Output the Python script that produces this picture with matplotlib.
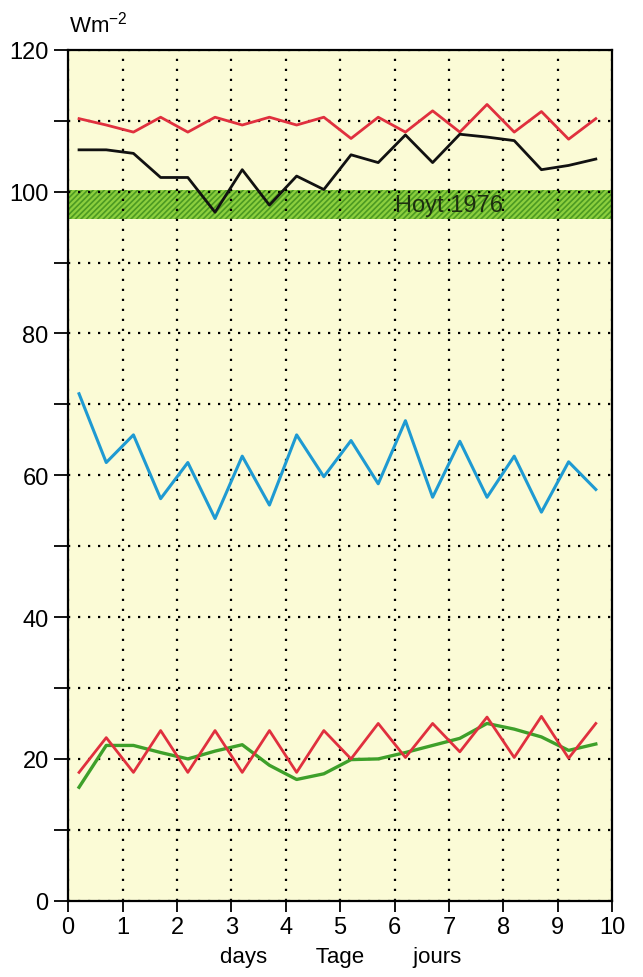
import numpy as np
import matplotlib.pyplot as plt

# half-day sample positions
days = [0.2, 0.7, 1.2, 1.7, 2.2, 2.7, 3.2, 3.7, 4.2, 4.7,
        5.2, 5.7, 6.2, 6.7, 7.2, 7.7, 8.2, 8.7, 9.2, 9.7]

red_top = [110.3, 109.4, 108.4, 110.5, 108.4, 110.5, 109.4, 110.5, 109.4, 110.5,
           107.5, 110.5, 108.4, 111.4, 108.4, 112.3, 108.4, 111.3, 107.4, 110.3]
black = [105.9, 105.9, 105.4, 102.0, 102.0, 97.1, 103.1, 98.1, 102.2, 100.3,
         105.2, 104.1, 108.0, 104.1, 108.1, 107.7, 107.2, 103.1, 103.7, 104.6]
blue = [71.5, 61.8, 65.7, 56.7, 61.8, 53.9, 62.7, 55.8, 65.7, 59.8,
        64.9, 58.8, 67.7, 56.9, 64.8, 56.9, 62.7, 54.8, 61.9, 58.0]
red_low = [18.1, 23.0, 18.1, 24.0, 18.1, 24.0, 18.1, 24.0, 18.1, 24.0,
           20.0, 25.0, 20.2, 25.0, 21.0, 25.9, 20.2, 26.0, 20.1, 25.0]
green = [16.0, 21.9, 21.9, 20.9, 20.0, 21.1, 22.0, 19.1, 17.1, 17.9,
         19.9, 20.0, 20.9, 21.9, 22.9, 25.0, 24.2, 23.1, 21.2, 22.1]

hoyt_low, hoyt_high = 96.1, 100.3

plt.rcParams['font.family'] = ['Liberation Sans Narrow', 'Liberation Sans', 'DejaVu Sans']
plt.rcParams['hatch.linewidth'] = 1.2

fig = plt.figure(figsize=(6.43, 9.78), dpi=100)
ax = fig.add_axes([0.106, 0.078, 0.846, 0.870])
ax.set_facecolor('#fbfbd6')

# Hoyt 1976 band
ax.axhspan(hoyt_low, hoyt_high, facecolor='#8ccf3e', edgecolor='#4c9a22',
           hatch='//////', linewidth=0, zorder=1)
ax.text(7.0, 98.1, 'Hoyt 1976', ha='center', va='center', fontsize=17,
        color='#1c2e10', zorder=2)

ax.plot(days, red_top, color='#e0303e', lw=2, zorder=3)
ax.plot(days, black, color='#111111', lw=2, zorder=3)
ax.plot(days, blue, color='#1e9ad2', lw=2.2, zorder=3)
ax.plot(days, green, color='#3ea02a', lw=2.4, zorder=3)
ax.plot(days, red_low, color='#e0303e', lw=2, zorder=4)

ax.set_xlim(0, 10)
ax.set_ylim(0, 120)
ax.set_xticks(np.arange(0, 11, 1))
ax.set_yticks(np.arange(0, 121, 20))
ax.set_yticks(np.arange(10, 120, 20), minor=True)
ax.grid(True, which='both', color='black', linestyle=(0, (1, 3.5)), linewidth=1.6, zorder=2)
ax.set_axisbelow(False)
for gl in ax.get_xgridlines() + ax.get_ygridlines():
    gl.set_zorder(2)

ax.tick_params(axis='y', which='both', direction='out', length=10, width=1.3,
               labelsize=17, pad=4)
ax.tick_params(axis='x', which='both', direction='out', length=8, width=1.3,
               labelsize=17, pad=3)
for s in ax.spines.values():
    s.set_linewidth(1.6)

ax.set_xlabel('days        Tage        jours', fontsize=16, labelpad=6)
fig.text(0.108, 0.975, 'Wm$^{\\mathregular{-2}}$', fontsize=16, ha='left', va='center')

fig.savefig('out.png', dpi=100)
